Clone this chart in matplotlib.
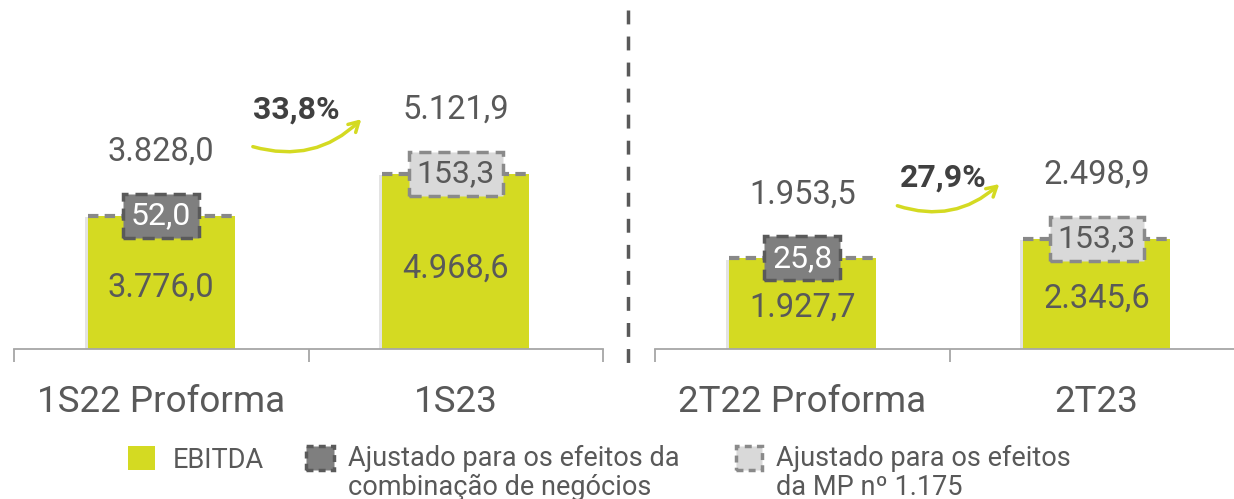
import matplotlib
matplotlib.use("Agg")
import matplotlib.pyplot as plt
import matplotlib.patheffects as pe
from matplotlib.patches import Rectangle, FancyArrowPatch
from matplotlib.lines import Line2D

plt.rcParams['font.family'] = ['Roboto', 'DejaVu Sans']

# dados
left_cats = ['1S22 Proforma', '1S23']
left_ebitda = [3776.0, 4968.6]
left_adj = [52.0, 153.3]
left_adj_kind = ['comb', 'mp']

right_cats = ['2T22 Proforma', '2T23']
right_ebitda = [1927.7, 2345.6]
right_adj = [25.8, 153.3]
right_adj_kind = ['comb', 'mp']

legend_labels = ['EBITDA',
                 'Ajustado para os efeitos da\ncombinação de negócios',
                 'Ajustado para os efeitos\nda MP nº 1.175']

# cores
GREEN = '#d4da22'
TXT = '#595959'
DARK_FILL = '#7f7f7f'
DARK_EDGE = '#5a5a5a'
LIGHT_FILL = '#d9d9d9'
LIGHT_EDGE = '#8a8a8a'
AXIS = '#a6a6a6'


def fmt(v):
    s = f'{v:,.1f}'
    return s.replace(',', 'X').replace('.', ',').replace('X', '.')


def draw_panel(ax, cats, ebitda, adj, kinds, ymax, arrow_pts, pct_pos):
    x = list(range(len(cats)))
    bars = ax.bar(x, ebitda, width=0.5, color=GREEN, zorder=2)
    for b in bars:
        b.set_path_effects([pe.SimplePatchShadow(offset=(-2, -1), shadow_rgbFace='#b0b0b0', alpha=0.35),
                            pe.Normal()])
    totals = []
    for xi, e, a, k in zip(x, ebitda, adj, kinds):
        tot = e + a
        totals.append(tot)
        # linha tracejada no topo da barra
        ax.plot([xi - 0.25, xi + 0.25], [e, e], ls=(0, (2.5, 1.5)), color='#888888', lw=3, zorder=3,
                solid_capstyle='butt')
        if k == 'comb':
            fc, ec, tc = DARK_FILL, DARK_EDGE, 'white'
        else:
            fc, ec, tc = LIGHT_FILL, LIGHT_EDGE, TXT
        ax.text(xi, e, fmt(a), ha='center', va='center', color=tc, fontsize=23, zorder=5,
                bbox=dict(boxstyle='square,pad=0.24', fc=fc, ec=ec, lw=2.5, ls=(0, (3.5, 2))))
        ax.text(xi, e * 0.46, fmt(e), ha='center', va='center', color=TXT, fontsize=23.5, zorder=4)
        ax.annotate(fmt(tot), (xi, e), xytext=(0, 64), textcoords='offset pixels',
                    ha='center', va='center', color=TXT, fontsize=23.5)

    pct = (totals[1] / totals[0] - 1) * 100
    ax.text(pct_pos[0], pct_pos[1], f'{pct:.1f}%'.replace('.', ','), transform=ax.transAxes,
            ha='center', va='center', fontsize=23, fontweight='bold', color='#404040')
    arr = FancyArrowPatch(arrow_pts[0], arrow_pts[1], transform=ax.transAxes,
                          connectionstyle='arc3,rad=0.3', arrowstyle='->,head_length=7,head_width=4',
                          color=GREEN, lw=2.5)
    ax.add_patch(arr)

    ax.set_xlim(-0.5, len(cats) - 0.5)
    ax.set_ylim(0, ymax)
    ax.set_xticks(x, cats)
    ax.set_xticks([-0.5, 0.5, 1.5], minor=True)
    ax.tick_params(axis='x', which='major', length=0, pad=25, labelsize=26.5, labelcolor=TXT)
    ax.tick_params(axis='x', which='minor', length=9, width=1.3, color=AXIS)
    ax.set_yticks([])
    for s in ['top', 'right', 'left']:
        ax.spines[s].set_visible(False)
    ax.spines['bottom'].set_color(AXIS)
    ax.spines['bottom'].set_linewidth(1.3)
    ax.patch.set_alpha(0)


fig = plt.figure(figsize=(12.34, 4.99), dpi=100)
ax1 = fig.add_axes([14 / 1234, 150 / 499, 589 / 1234, 349 / 499])
ax2 = fig.add_axes([655 / 1234, 150 / 499, 589 / 1234, 349 / 499])

draw_panel(ax1, left_cats, left_ebitda, left_adj, left_adj_kind, 9900,
           ((0.401, 0.582), (0.593, 0.664)), (0.48, 0.685))
draw_panel(ax2, right_cats, right_ebitda, right_adj, right_adj_kind, 7420,
           ((0.407, 0.413), (0.588, 0.478)), (0.489, 0.49))

# separador vertical
fig.add_artist(Line2D([628 / 1234, 628 / 1234], [1 - 10 / 499, 1 - 370 / 499],
                      color='#595959', lw=2.5, ls=(0, (4, 3.5))))

# legenda manual
sq_y = 1 - 470 / 499
sq_h = 24 / 499
fig.add_artist(Rectangle((128 / 1234, sq_y), 27 / 1234, sq_h, fc=GREEN, ec='none'))
fig.add_artist(Rectangle((306 / 1234, sq_y), 28 / 1234, sq_h, fc=DARK_FILL, ec=DARK_EDGE,
                         lw=2.5, ls=(0, (2, 1.5))))
fig.add_artist(Rectangle((736 / 1234, sq_y), 26 / 1234, sq_h, fc=LIGHT_FILL, ec=LIGHT_EDGE,
                         lw=2.5, ls=(0, (2, 1.5))))
fig.text(173 / 1234, 1 - 460 / 499, legend_labels[0], ha='left', va='center', fontsize=19.5, color=TXT)
fig.text(348 / 1234, 1 - 445 / 499, legend_labels[1], ha='left', va='top', fontsize=19.5, color=TXT,
         linespacing=1.1)
fig.text(776 / 1234, 1 - 445 / 499, legend_labels[2], ha='left', va='top', fontsize=19.5, color=TXT,
         linespacing=1.1)

fig.savefig('out.png', dpi=100)
